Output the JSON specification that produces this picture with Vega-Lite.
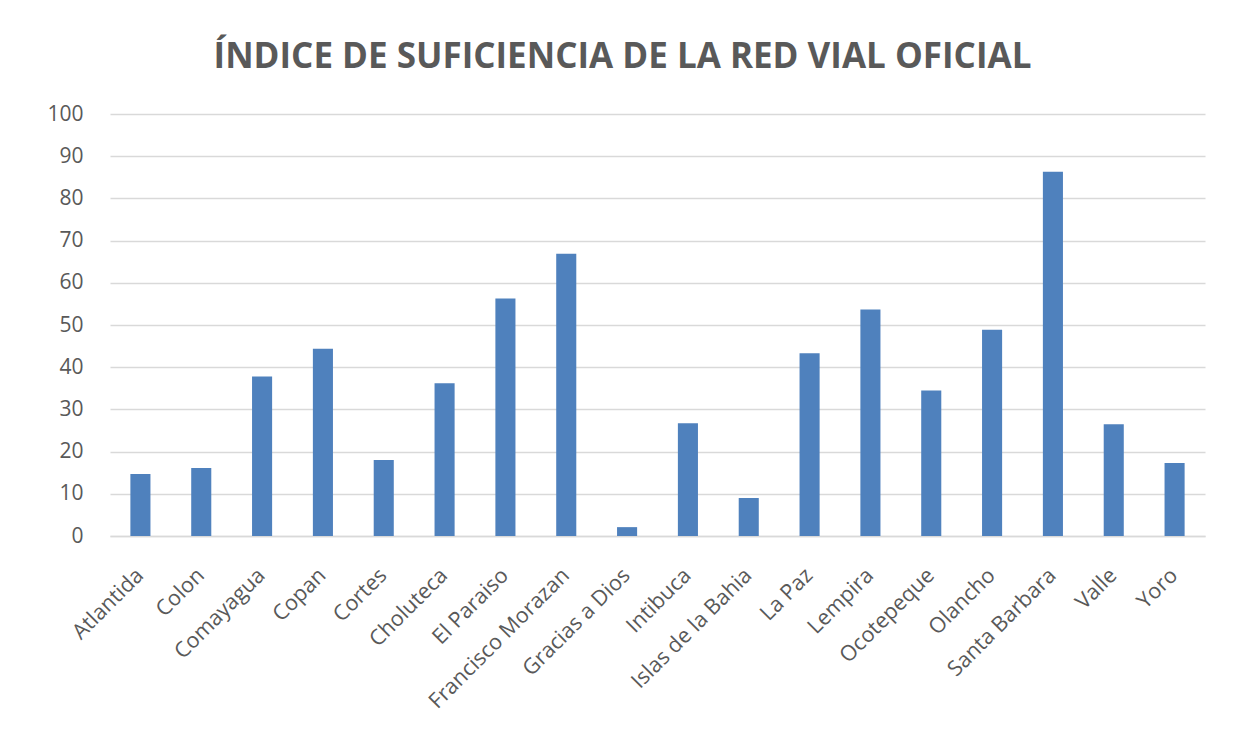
{
  "$schema": "https://vega.github.io/schema/vega-lite/v6.json",
  "autosize": {"type": "none"},
  "padding": {"left": 110, "top": 114, "right": 31, "bottom": 218},
  "width": 1095,
  "height": 422,
  "background": "white",
  "title": {
    "text": "ÍNDICE DE SUFICIENCIA DE LA RED VIAL OFICIAL",
    "font": "Open Sans",
    "fontSize": 35,
    "fontWeight": "bold",
    "color": "#595959",
    "anchor": "middle",
    "dx": -35,
    "offset": 28
  },
  "data": {
    "values": [
      {"departamento": "Atlantida", "indice": 14.7},
      {"departamento": "Colon", "indice": 16.1},
      {"departamento": "Comayagua", "indice": 37.8},
      {"departamento": "Copan", "indice": 44.4},
      {"departamento": "Cortes", "indice": 18.0},
      {"departamento": "Choluteca", "indice": 36.2},
      {"departamento": "El Paraiso", "indice": 56.3},
      {"departamento": "Francisco Morazan", "indice": 66.9},
      {"departamento": "Gracias a Dios", "indice": 2.1},
      {"departamento": "Intibuca", "indice": 26.7},
      {"departamento": "Islas de la Bahia", "indice": 9.0},
      {"departamento": "La Paz", "indice": 43.3},
      {"departamento": "Lempira", "indice": 53.7},
      {"departamento": "Ocotepeque", "indice": 34.5},
      {"departamento": "Olancho", "indice": 48.9},
      {"departamento": "Santa Barbara", "indice": 86.3},
      {"departamento": "Valle", "indice": 26.5},
      {"departamento": "Yoro", "indice": 17.3}
    ]
  },
  "mark": {"type": "bar", "color": "#4F81BD"},
  "encoding": {
    "x": {
      "field": "departamento",
      "type": "nominal",
      "sort": null,
      "scale": {"paddingInner": 0.67, "paddingOuter": 0.335},
      "axis": {
        "title": null,
        "labelAngle": -45,
        "labelAlign": "right",
        "labelBaseline": "middle",
        "labelFont": "Open Sans",
        "labelFontSize": 21.5,
        "labelColor": "#595959",
        "labelPadding": 36,
        "ticks": false,
        "domainColor": "#D9D9D9",
        "domainWidth": 1.5,
        "labelLimit": 400
      }
    },
    "y": {
      "field": "indice",
      "type": "quantitative",
      "scale": {"domain": [0, 100], "nice": false},
      "axis": {
        "title": null,
        "values": [0, 10, 20, 30, 40, 50, 60, 70, 80, 90, 100],
        "labelFont": "Open Sans",
        "labelFontSize": 21,
        "labelColor": "#595959",
        "labelPadding": 27,
        "ticks": false,
        "domain": false,
        "gridColor": "#D9D9D9",
        "gridWidth": 1.5
      }
    }
  },
  "config": {"view": {"stroke": null}}
}
